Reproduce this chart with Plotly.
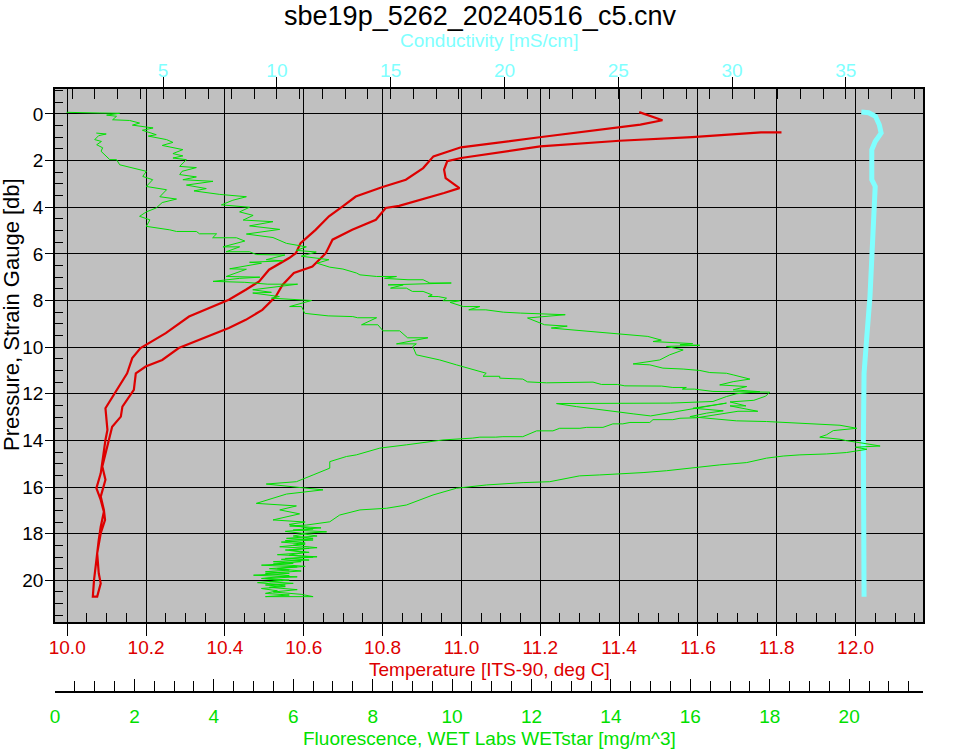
import plotly.graph_objects as go

# ---------------- data ----------------
# Temperature, branch A (starts at surface, p=0)
temp_a_pressure = [-0.08, 0.27, 0.46, 0.64, 1.00, 1.43, 1.82, 2.32, 2.82, 3.13, 3.54, 3.97, 4.39, 4.97,
                   5.54, 5.97, 6.18, 6.68, 7.18, 7.54, 7.97, 8.69, 9.40, 10.04, 10.47, 11.12, 11.91,
                   12.62, 13.55, 13.98, 15.41, 16.05, 16.55, 17.06, 17.70, 18.27, 19.42, 19.99, 20.70]
temp_a_value = [11.451, 11.510, 11.454, 11.366, 11.198, 10.999, 10.929, 10.903, 10.859, 10.800, 10.732,
                10.698, 10.664, 10.630, 10.592, 10.580, 10.563, 10.512, 10.487, 10.453, 10.410, 10.309,
                10.250, 10.186, 10.165, 10.152, 10.123, 10.097, 10.102, 10.097, 10.085, 10.074, 10.085,
                10.093, 10.085, 10.080, 10.072, 10.068, 10.065]
# Temperature, branch B (starts at p=0.79)
temp_b_pressure = [0.79, 0.79, 0.99, 1.15, 1.39, 1.89, 2.03, 2.39, 2.75, 3.18, 3.39, 3.94, 4.03, 4.54,
                   4.97, 5.39, 5.97, 6.54, 6.82, 7.33, 7.83, 8.40, 8.83, 9.18, 10.04, 10.55, 10.83,
                   11.12, 11.83, 12.55, 12.98, 13.41, 13.98, 15.12, 15.69, 16.41, 16.98, 17.41, 17.98,
                   18.84, 19.70, 20.13, 20.70]
temp_b_value = [11.812, 11.760, 11.585, 11.401, 11.200, 10.999, 10.964, 10.956, 10.960, 10.995, 10.956,
                10.842, 10.808, 10.783, 10.723, 10.673, 10.656, 10.622, 10.575, 10.546, 10.529, 10.495,
                10.453, 10.410, 10.283, 10.241, 10.199, 10.174, 10.169, 10.140, 10.136, 10.114, 10.106,
                10.089, 10.097, 10.085, 10.093, 10.096, 10.085, 10.076, 10.080, 10.085, 10.076]

# Conductivity
cond_pressure = [-0.08, -0.05, 0.10, 0.30, 0.46, 0.82, 1.18, 1.54, 2.82, 3.11, 4.54, 6.11, 7.83, 9.69,
                 11.12, 14.00, 16.90, 20.70]
cond_value = [35.68, 36.00, 36.30, 36.40, 36.47, 36.55, 36.29, 36.14, 36.14, 36.29, 36.22, 36.14, 36.06,
              35.91, 35.80, 35.77, 35.77, 35.80]

# Fluorescence, cast A (surface -> bottom)
fl_a_pressure = [-0.07, -0.07, -0.05, -0.06, -0.04, -0.03, 0.05, 0.10, 0.25, 0.28, 0.39, 0.48, 0.60, 0.70,
                 0.89, 0.95, 1.10, 1.22, 1.35, 1.53, 1.70, 1.80, 1.89, 1.96, 2.25, 2.30, 2.46, 2.60, 2.70,
                 2.82, 2.89, 3.05, 3.20, 3.30, 3.45, 3.55, 3.70, 3.90, 4.00, 4.20, 4.35, 4.55, 4.62, 4.80,
                 4.95, 5.15, 5.30, 5.55, 5.70, 5.85, 5.92, 6.10, 6.25, 6.40, 6.57, 6.65, 6.82, 6.90, 6.97,
                 6.97, 7.05, 7.11, 7.11, 7.25, 7.25, 7.33, 7.33, 7.47, 7.47, 7.61, 7.61, 7.76, 7.83, 7.83,
                 7.90, 8.01, 8.01, 8.08, 8.26, 8.26, 8.40, 8.40, 8.50, 8.54, 8.61, 8.75, 9.04, 9.10, 9.18,
                 9.26, 9.36, 9.47, 9.54, 9.70, 9.76, 9.85, 9.90, 9.92, 9.97, 10.12, 10.33, 10.55, 10.72,
                 10.76, 10.90, 10.94, 11.00, 11.09, 11.12, 11.19, 11.37, 11.48, 11.62, 11.69, 11.83, 11.91,
                 12.00, 12.12, 12.33, 12.40, 12.42, 12.42, 12.55, 12.73, 12.76, 12.86, 12.95, 12.40, 12.52,
                 12.62, 12.73, 12.83, 12.98, 13.09, 13.16, 13.19, 13.24, 13.30, 13.35, 13.48, 13.58, 13.76,
                 13.86, 13.95, 14.01, 14.12, 14.24, 14.29, 14.38, 14.52, 14.58, 14.62, 14.67, 14.76, 14.95,
                 15.05, 15.19, 15.30, 15.38, 15.45, 15.48, 15.52, 15.77, 15.81, 15.87, 15.91, 16.05, 16.34,
                 16.77, 16.91, 16.98, 17.20, 17.49, 17.63, 17.67, 17.75, 17.84, 17.92, 17.99, 18.10, 18.20,
                 18.27, 18.36, 18.45, 18.56, 18.63, 18.70, 18.80, 18.90, 18.99, 19.06, 19.13, 19.20, 19.27,
                 19.35, 19.42, 19.50, 19.56, 19.63, 19.70, 19.78, 19.85, 19.92, 19.99, 20.06, 20.13, 20.20,
                 20.27, 20.35, 20.45, 20.56, 20.63, 20.70, 20.70]
fl_a_value = [0.29, 0.62, 0.83, 1.05, 1.13, 1.63, 1.30, 1.55, 1.45, 1.88, 2.13, 1.95, 2.47, 2.20,
              2.55, 2.35, 2.81, 2.97, 2.70, 3.22, 2.97, 3.22, 2.97, 3.31, 3.14, 3.56, 3.20, 3.14, 3.56,
              3.22, 3.98, 3.31, 3.81, 3.50, 4.15, 4.82, 4.48, 4.19, 4.90, 4.65, 4.99, 4.74, 5.49, 4.90,
              5.66, 4.82, 5.49, 5.83, 6.33, 6.08, 6.58, 6.20, 6.90, 6.60, 6.92, 7.25, 7.59, 7.68, 8.10,
              8.60, 8.30, 8.89, 9.27, 9.44, 9.98, 8.39, 8.77, 8.45, 8.85, 9.00, 9.27, 9.50, 9.40, 9.65,
              9.86, 9.77, 10.19, 9.95, 10.28, 10.70, 10.42, 10.85, 11.29, 11.72, 12.85, 11.90, 12.33, 12.90, 12.50,
              13.02, 13.71, 14.32, 14.93, 15.27, 15.06, 16.06, 15.74, 16.24, 15.40, 15.82, 15.48, 15.23, 14.56,
              14.98, 15.31, 15.82, 16.24, 16.49, 16.91, 17.08, 17.50, 17.08, 16.74, 17.42, 17.08, 17.75,
              17.16, 16.91, 16.57, 15.50, 13.59, 12.63, 13.13, 13.89, 14.10, 14.56, 15.00, 16.91, 16.49,
              16.07, 16.83, 16.41, 15.99, 16.66, 17.16, 17.92, 18.51, 19.18, 19.77, 20.19, 19.60, 19.43,
              19.26, 19.77, 19.93, 20.35, 20.78, 20.16, 20.45, 19.93, 19.43, 18.76, 18.34, 17.92, 17.42,
              16.74, 16.07, 15.40, 14.81, 14.22, 13.72, 13.21, 12.46, 11.79, 11.20, 10.87, 10.11, 9.52,
              8.85, 8.35, 7.68, 7.17, 6.92, 6.33, 5.91, 6.70, 6.00, 6.84, 6.20, 6.60, 5.83,
              6.50, 5.70, 6.30, 5.66, 6.40, 5.90, 6.40, 5.60, 6.60, 5.80, 6.40, 5.50, 6.00,
              5.20, 6.10, 5.40, 5.90, 5.30, 5.90, 5.00, 6.10, 5.30, 5.90, 5.40, 6.00, 5.30,
              5.80, 5.20, 5.60, 5.30, 5.90, 5.30, 6.50]

# Fluorescence, cast B (listed top -> bottom; drawn bottom -> top)
fl_b_pressure = [0.82, 0.86, 0.93, 1.10, 1.18, 1.32, 1.45, 1.60, 1.96, 1.96, 2.18, 2.39, 2.30, 2.46, 2.68,
                 2.82, 3.11, 3.25, 3.55, 3.65, 3.80, 4.03, 4.20, 4.39, 4.54, 4.82, 4.97, 5.04, 5.04, 5.14,
                 5.14, 5.31, 5.31, 5.45, 5.70, 5.70, 5.91, 5.91, 6.03, 6.05, 6.25, 6.30, 6.36, 6.40, 6.64,
                 6.66, 6.97, 7.00, 7.05, 7.18, 7.22, 7.30, 7.30, 7.54, 7.65, 7.68, 7.83, 7.90, 8.00, 8.26,
                 8.26, 8.55, 8.66, 8.69, 8.69, 8.74, 8.74, 9.04, 9.04, 9.30, 9.30, 9.60, 9.60, 9.86, 9.86,
                 9.97, 10.33, 10.55, 10.76, 11.12, 11.25, 11.25, 11.33, 11.37, 11.49, 11.53, 11.53, 11.53,
                 11.50, 11.50, 11.60, 11.60, 11.66, 11.66, 11.67, 11.67, 11.73, 11.73, 11.80, 11.80, 11.90,
                 11.90, 11.93, 11.93, 12.10, 12.28, 12.35, 12.52, 12.52, 12.75, 12.75, 13.03, 13.05, 13.11,
                 13.11, 13.23, 13.23, 13.29, 13.29, 13.44, 13.44, 13.48, 13.48, 13.59, 13.59, 13.84, 13.84,
                 13.86, 13.86, 13.90, 13.98, 14.19, 14.33, 14.62, 14.69, 14.91, 15.19, 15.48, 15.77, 15.87,
                 16.12, 16.30, 16.70, 16.81, 16.98, 17.15, 17.41, 17.50, 17.60, 17.80, 17.90, 18.00, 18.10,
                 18.20, 18.30, 18.40, 18.50, 18.60, 18.70, 18.80, 18.92, 19.00, 19.10, 19.20, 19.30, 19.40,
                 19.50, 19.60, 19.70, 19.80, 19.92, 20.00, 20.10, 20.20, 20.30, 20.40, 20.50, 20.60, 20.70]
fl_b_value = [1.04, 1.29, 1.10, 1.00, 1.17, 1.05, 1.20, 1.16, 1.38, 1.55, 1.63, 2.13, 1.90, 2.30, 2.21,
              2.46, 2.30, 2.81, 2.64, 3.06, 2.70, 2.55, 2.30, 2.13, 2.39, 2.30, 2.89, 3.06, 3.56, 3.64,
              4.07, 3.97, 4.57, 4.78, 4.23, 4.65, 4.31, 4.90, 5.07, 5.79, 5.32, 5.74, 4.90, 5.20, 4.40,
              4.82, 4.31, 5.16, 4.65, 3.98, 4.78, 5.36, 6.11, 4.98, 5.45, 4.98, 5.65, 5.45, 6.46, 5.91,
              6.21, 6.29, 6.88, 7.05, 7.50, 7.62, 8.10, 7.72, 8.13, 8.26, 8.68, 8.88, 9.39, 8.60, 9.10,
              9.01, 9.10, 9.69, 10.11, 10.86, 10.78, 11.20, 11.20, 11.78, 11.90, 12.38, 12.54, 12.97,
              13.14, 13.55, 13.76, 14.17, 14.35, 14.78, 14.98, 15.28, 15.56, 15.90, 15.80, 16.10, 16.57,
              17.17, 17.42, 18.00, 17.90, 17.60, 17.00, 17.40, 17.00, 17.70, 17.20, 16.16, 15.74, 15.56,
              15.06, 14.98, 14.48, 14.30, 14.05, 13.80, 13.39, 13.22, 12.71, 12.54, 12.13, 11.78, 11.28,
              11.10, 10.70, 10.52, 9.77, 8.85, 8.18, 7.59, 7.34, 6.92, 6.92, 6.50, 6.08, 5.32,
              6.75, 5.83, 5.07, 6.08, 5.66, 6.16, 5.49, 6.30, 5.90, 6.50, 5.80, 6.30, 6.00,
              6.50, 5.80, 6.30, 6.00, 6.60, 5.80, 6.30, 5.90, 6.50, 5.70, 6.20, 5.50, 6.30,
              5.60, 6.20, 5.30, 5.90, 5.20, 5.70, 5.10, 5.80, 5.40, 6.10, 5.50, 6.20, 6.50]

# axis ranges
temp_range = [9.969, 12.171]
cond_range = [0.25, 38.39]
fluor_range = [0.0, 21.86]
pressure_range = [21.80, -1.07]

# ---------------- figure ----------------
FONT = "Liberation Sans, Arial, sans-serif"
RED = "#DD0000"
CYAN = "#80FFFF"
GREEN = "#00E000"

fig = go.Figure()

fig.add_trace(go.Scatter(
    x=fl_a_value + fl_b_value[::-1], y=fl_a_pressure + fl_b_pressure[::-1],
    xaxis="x3", yaxis="y", mode="lines", line=dict(color=GREEN, width=1),
    showlegend=False, hoverinfo="skip"))
fig.add_trace(go.Scatter(
    x=temp_a_value + temp_b_value[::-1], y=temp_a_pressure + temp_b_pressure[::-1],
    xaxis="x", yaxis="y", mode="lines", line=dict(color=RED, width=2.2),
    showlegend=False, hoverinfo="skip"))
fig.add_trace(go.Scatter(
    x=cond_value, y=cond_pressure,
    xaxis="x2", yaxis="y", mode="lines", line=dict(color=CYAN, width=5),
    showlegend=False, hoverinfo="skip"))

ydom0 = (692 - 622.3) / 603.0

fig.update_layout(
    width=960, height=750,
    margin=dict(l=55, r=37, t=89, b=58),
    paper_bgcolor="white", plot_bgcolor="#C0C0C0",
    font=dict(family=FONT, size=19, color="black"),
    title=dict(text="sbe19p_5262_20240516_c5.cnv", x=0.5, xref="container", xanchor="center",
               y=1 - 15.5 / 750, yref="container", yanchor="middle",
               font=dict(size=27, color="black", family=FONT)),
    xaxis=dict(
        domain=[0, 1], anchor="y", side="bottom", range=temp_range,
        tick0=10, dtick=0.2, tickformat=".1f",
        ticks="outside", ticklen=12, tickwidth=1.3, tickcolor="black",
        showgrid=True, gridcolor="black", gridwidth=1.2,
        showline=True, linecolor="black", linewidth=1.5, mirror=True,
        zeroline=False, ticklabelstandoff=-5,
        tickfont=dict(color=RED, size=19, family=FONT),
        minor=dict(dtick=0.05, tick0=10, ticks="inside", ticklen=10, tickwidth=1.2,
                   tickcolor="black", showgrid=False),
    ),
    xaxis2=dict(
        overlaying="x", anchor="y", side="top", range=cond_range,
        tick0=0, dtick=5, ticks="outside", ticklen=11, tickwidth=1.3, tickcolor="black",
        showgrid=False, showline=False, zeroline=False, ticklabelstandoff=-8,
        tickfont=dict(color=CYAN, size=19, family=FONT),
        minor=dict(dtick=1, tick0=0, ticks="inside", ticklen=10, tickwidth=1.2,
                   tickcolor="black", showgrid=False),
    ),
    xaxis3=dict(
        overlaying="x", anchor="free", position=0, side="bottom", range=fluor_range,
        tick0=0, dtick=2, ticks="inside", ticklen=12, tickwidth=1.3, tickcolor="black",
        showgrid=False, showline=True, linecolor="black", linewidth=1.5, zeroline=False,
        ticklabelstandoff=7,
        tickfont=dict(color=GREEN, size=19, family=FONT),
        minor=dict(dtick=0.5, tick0=0, ticks="inside", ticklen=10, tickwidth=1.2,
                   tickcolor="black", showgrid=False),
    ),
    yaxis=dict(
        domain=[ydom0, 1], range=pressure_range, tick0=0, dtick=2,
        ticks="outside", ticklen=8, tickwidth=1.3, tickcolor="black",
        showgrid=True, gridcolor="black", gridwidth=1.2,
        showline=True, linecolor="black", linewidth=1.5, mirror=True, zeroline=False,
        ticklabelstandoff=-2,
        tickfont=dict(color="black", size=19, family=FONT),
        minor=dict(dtick=0.5, tick0=0, ticks="inside", ticklen=8, tickwidth=1.2,
                   tickcolor="black", showgrid=False),
    ),
    annotations=[
        dict(text="Conductivity [mS/cm]", xref="paper", yref="paper", x=0.5,
             y=(692 - 41) / 603.0, xanchor="center", yanchor="middle", showarrow=False,
             font=dict(color=CYAN, size=19, family=FONT)),
        dict(text="Temperature [ITS-90, deg C]", xref="paper", yref="paper", x=0.5,
             y=(692 - 669) / 603.0, xanchor="center", yanchor="middle", showarrow=False,
             font=dict(color=RED, size=19, family=FONT)),
        dict(text="Fluorescence, WET Labs WETstar [mg/m^3]", xref="paper", yref="paper", x=0.5,
             y=(692 - 738) / 603.0, xanchor="center", yanchor="middle", showarrow=False,
             font=dict(color=GREEN, size=19, family=FONT)),
        dict(text="Pressure, Strain Gauge [db]", xref="paper", yref="paper",
             x=(11 - 55) / 868.0, y=(692 - 315) / 603.0, xanchor="center", yanchor="middle",
             textangle=-90, showarrow=False, font=dict(color="black", size=22, family=FONT)),
    ],
)

fig.write_html("out.html", config={"displayModeBar": False},
               post_script="document.body.style.margin='0px';")
